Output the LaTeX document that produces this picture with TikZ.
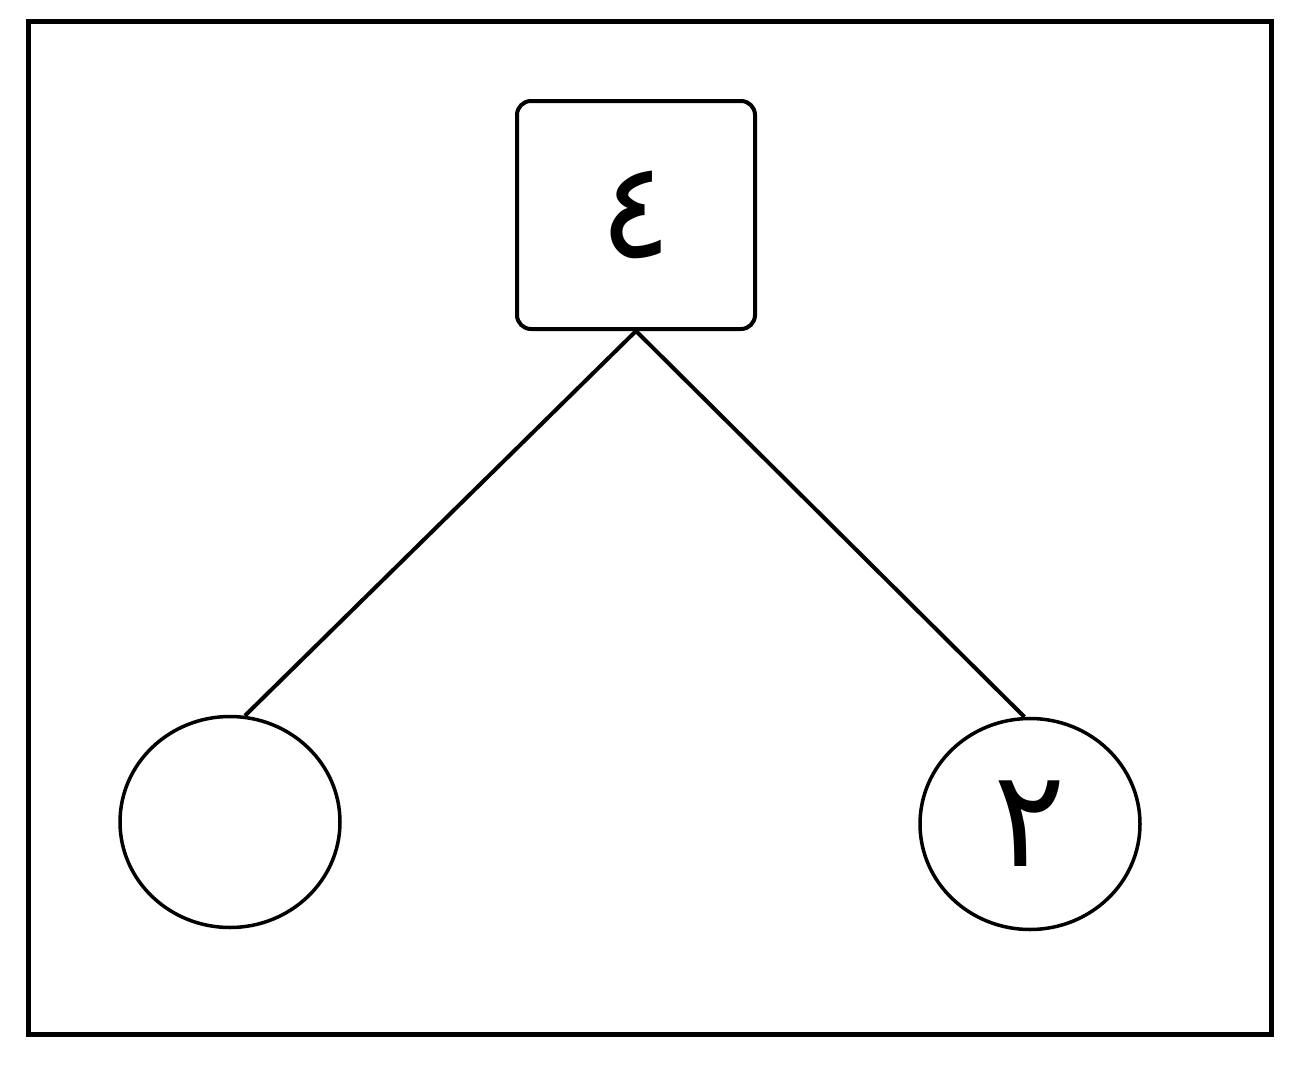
\documentclass[tikz,border=0pt]{standalone}
\usepackage{fontspec}
\usetikzlibrary{shapes.geometric}
\TeXXeTstate=1
\newfontfamily\arabicfont[Script=Arabic]{DejaVu Sans}
\begin{document}
\begin{tikzpicture}[x=1pt,y=-1pt,
  boxnode/.style={draw,line width=4pt,rounded corners=14pt,minimum width=238pt,minimum height=228pt,inner sep=0pt},
  leafnode/.style={draw,line width=3.5pt,ellipse,minimum width=220pt,minimum height=211pt,inner sep=0pt},
  edge/.style={line width=4pt},
  digit/.style={font=\arabicfont\fontsize{135}{145}\selectfont}]
\useasboundingbox (0,0) rectangle (1306,1065);
\draw[line width=5pt] (28,22) rectangle (1271,1034);
\node[boxnode,digit] (top) at (636,215) {\beginR ٤\endR};
\node[leafnode] (left) at (230,822) {};
\node[leafnode,digit] (right) at (1030,824) {\beginR ٢\endR};
\draw[edge] (top.south) -- (left.82);
\draw[edge] (top.south) -- (right.93);
\end{tikzpicture}
\end{document}
